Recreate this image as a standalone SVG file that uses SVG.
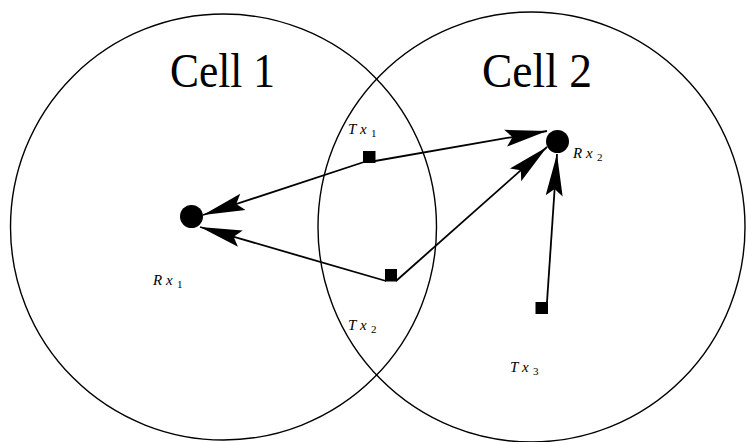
<svg xmlns="http://www.w3.org/2000/svg" width="747" height="442" viewBox="0 0 747 442">
<style>
.cell{fill:none;stroke:#000;stroke-width:1.4}
.title{font-family:"Liberation Serif",serif;font-size:49px;fill:#000}
.lbl{font-family:"Liberation Serif",serif;font-style:italic;font-size:15px;fill:#000}
.sub{font-family:"Liberation Serif",serif;font-style:normal;font-size:11px}
.edge{stroke:#000;stroke-width:1.8;fill:none;marker-end:url(#arr)}
.rx{fill:#000}
.tx{fill:#000}
</style>
<defs>
<marker id="arr" markerUnits="userSpaceOnUse" markerWidth="50" markerHeight="24" refX="0" refY="0" viewBox="-44 -12 50 24" orient="auto" overflow="visible">
<path d="M0,0 L-42,-8.5 L-35,0 L-42,8.5 Z" fill="#000"/>
</marker>
</defs>
<g id="cell1">
<circle class="cell" cx="223.5" cy="227" r="213"/>
<text class="title" x="170" y="87" textLength="105" lengthAdjust="spacingAndGlyphs">Cell 1</text>
</g>
<g id="cell2">
<ellipse class="cell" cx="531.5" cy="227" rx="213.5" ry="215"/>
<text class="title" x="482" y="87" textLength="110" lengthAdjust="spacingAndGlyphs">Cell 2</text>
</g>
<g id="connectors">
<line class="edge" x1="364" y1="162" x2="203" y2="215"/>
<line class="edge" x1="375" y1="161" x2="547" y2="131"/>
<line class="edge" x1="386" y1="281" x2="200" y2="227"/>
<line class="edge" x1="396" y1="281" x2="547" y2="147"/>
<line class="edge" x1="547" y1="302" x2="557" y2="154"/>
</g>
<g id="Rx1">
<circle class="rx" cx="191.5" cy="216.5" r="11.5"/>
<text class="lbl" y="285"><tspan x="153">R</tspan><tspan x="166">x</tspan><tspan class="sub" x="177" dy="3">1</tspan></text>
</g>
<g id="Rx2">
<circle class="rx" cx="557.5" cy="141.5" r="11.5"/>
<text class="lbl" y="158"><tspan x="573">R</tspan><tspan x="586">x</tspan><tspan class="sub" x="597" dy="3">2</tspan></text>
</g>
<g id="Tx1">
<rect class="tx" x="363" y="151" width="12.5" height="12"/>
<text class="lbl" y="134"><tspan x="348">T</tspan><tspan x="360">x</tspan><tspan class="sub" x="371" dy="3">1</tspan></text>
</g>
<g id="Tx2">
<rect class="tx" x="385" y="269" width="12" height="12.5"/>
<text class="lbl" y="330"><tspan x="348">T</tspan><tspan x="360">x</tspan><tspan class="sub" x="371" dy="3">2</tspan></text>
</g>
<g id="Tx3">
<rect class="tx" x="535.5" y="302" width="12.5" height="12"/>
<text class="lbl" y="372"><tspan x="510">T</tspan><tspan x="522">x</tspan><tspan class="sub" x="533" dy="3">3</tspan></text>
</g>
</svg>
